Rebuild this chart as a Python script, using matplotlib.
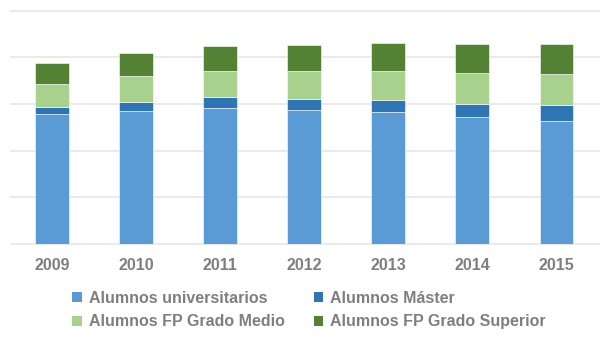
import matplotlib.pyplot as plt
from matplotlib.patches import Patch

plt.rcParams['font.family'] = ['Liberation Sans', 'DejaVu Sans']

years = ['2009', '2010', '2011', '2012', '2013', '2014', '2015']
series_names = ['Alumnos universitarios', 'Alumnos Máster',
                'Alumnos FP Grado Medio', 'Alumnos FP Grado Superior']
universitarios = [1389, 1421, 1453, 1438, 1410, 1363, 1320]
master = [78, 104, 118, 111, 132, 136, 172]
fp_medio = [250, 275, 286, 300, 315, 336, 333]
fp_superior = [218, 243, 265, 279, 297, 311, 315]
colors = ['#5B9BD5', '#2E75B6', '#A9D18E', '#548235']

fig = plt.figure(figsize=(6, 3.37), dpi=100)
ax = fig.add_axes([0.0178, 0.277, 0.9822, 0.691])

x = range(len(years))
bottom = [0] * len(years)
for vals, col in zip([universitarios, master, fp_medio, fp_superior], colors):
    ax.bar(x, vals, width=0.40, bottom=bottom, color=col,
           edgecolor='#ffffff', linewidth=0.4, zorder=3)
    bottom = [b + v for b, v in zip(bottom, vals)]

ax.set_xlim(-0.494, 6.52)
ax.set_ylim(0, 2500)
ax.set_yticks([0, 500, 1000, 1500, 2000, 2500])
ax.set_yticklabels([])
ax.yaxis.grid(True, color='#e6e6e6', linewidth=1.2, zorder=0)
for gl in ax.get_ygridlines():
    gl.set_clip_on(False)
for s in ax.spines.values():
    s.set_visible(False)
ax.tick_params(length=0)
ax.set_xticks(list(x))
ax.set_xticklabels(years, fontsize=11.5, fontweight='bold', color='#7f7f7f')
ax.tick_params(axis='x', pad=10)

handles = [Patch(facecolor=c) for c in colors]
order = [0, 2, 1, 3]
fig.legend([handles[i] for i in order], [series_names[i] for i in order],
           ncol=2, frameon=False, loc='center left',
           bbox_to_anchor=(0.1205, 0.080), borderpad=0, borderaxespad=0,
           prop={'weight': 'bold', 'size': 11.5},
           labelcolor='#7f7f7f', handlelength=0.6, handleheight=0.6,
           handletextpad=0.46, columnspacing=1.78, labelspacing=0.55)

fig.savefig('out.png', dpi=100)
